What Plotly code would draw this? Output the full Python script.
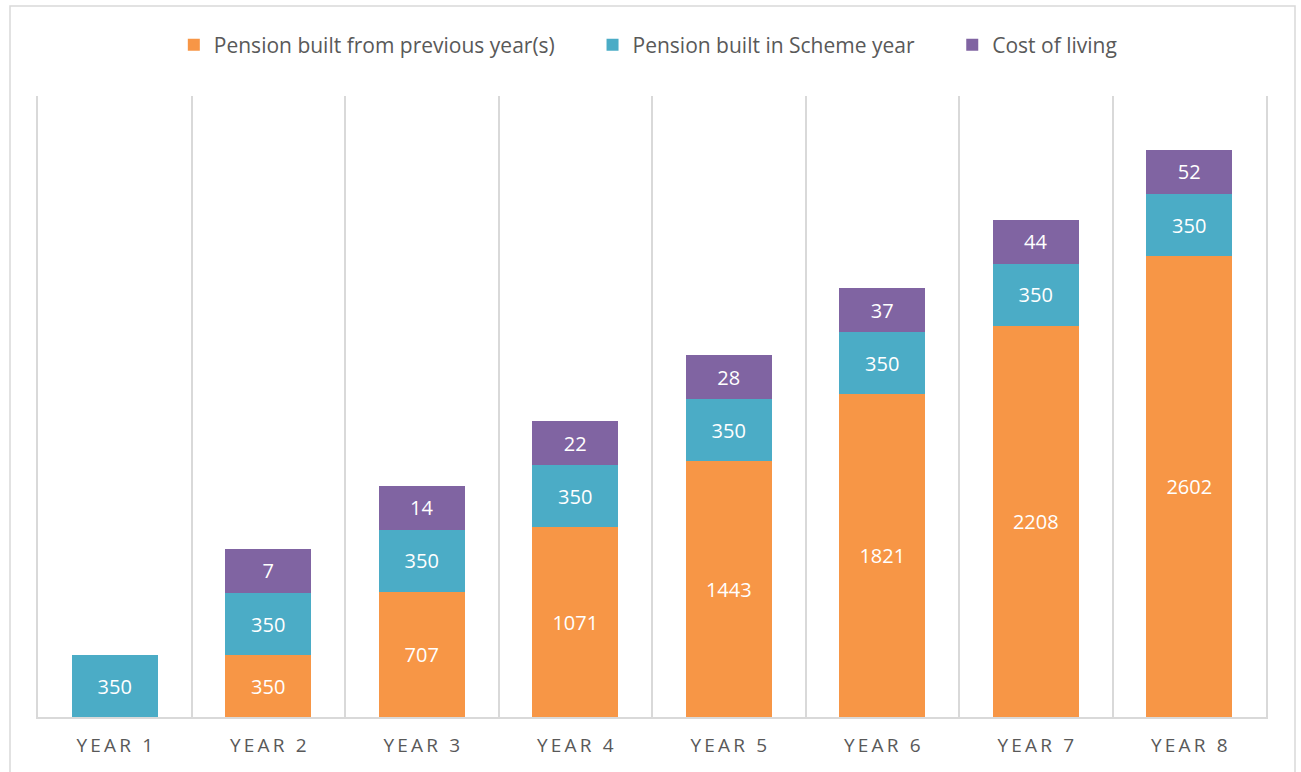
import plotly.graph_objects as go

categories = ["YEAR 1", "YEAR 2", "YEAR 3", "YEAR 4", "YEAR 5", "YEAR 6", "YEAR 7", "YEAR 8"]
pension_previous = [None, 350, 707, 1071, 1443, 1821, 2208, 2602]
pension_scheme_year = [350, 350, 350, 350, 350, 350, 350, 350]
cost_of_living_labels = [None, 7, 14, 22, 28, 37, 44, 52]
# the purple segments are drawn at a constant height in the source chart
cost_of_living_bar = [None, 250, 250, 250, 250, 250, 250, 250]
series_names = ["Pension built from previous year(s)", "Pension built in Scheme year", "Cost of living"]


def spaced(s):
    return "\u2009".join(list(s))


tick_text = [spaced(c) for c in categories]

ORANGE = "#F79646"
TEAL = "#4BACC6"
PURPLE = "#8064A2"
FONT = "Open Sans"
PAD = "\u00a0" * 6


def lbl(v):
    return "" if v is None else str(v)


fig = go.Figure()
for name, ys, labels, color, pad in [
    (series_names[0], pension_previous, pension_previous, ORANGE, PAD),
    (series_names[1], pension_scheme_year, pension_scheme_year, TEAL, PAD),
    (series_names[2], cost_of_living_bar, cost_of_living_labels, PURPLE, ""),
]:
    fig.add_trace(go.Bar(
        x=categories, y=ys, name=name + pad,
        marker=dict(color=color, line=dict(width=0)),
        text=[lbl(v) for v in labels], textposition="inside",
        insidetextanchor="middle", textfont=dict(color="white", size=20, family=FONT),
        hovertemplate="%{x}: %{text}<extra>" + name + "</extra>",
    ))

fig.update_layout(
    barmode="stack",
    bargap=0.44,
    width=1301, height=772,
    margin=dict(l=38, r=35, t=96, b=55),
    paper_bgcolor="white", plot_bgcolor="white",
    font=dict(family=FONT, color="#595959"),
    showlegend=True,
    legend=dict(orientation="h", x=0.497, xanchor="center", y=1.082, yanchor="middle",
                font=dict(size=21, color="#595959", family=FONT),
                traceorder="normal", itemwidth=30),
    uniformtext=dict(minsize=20, mode="show"),
    xaxis=dict(type="category", tickmode="array", tickvals=categories, ticktext=tick_text,
               tickson="boundaries", showgrid=True, gridcolor="#D9D9D9", gridwidth=1.5,
               showline=True, linecolor="#D9D9D9", linewidth=2, ticks="",
               ticklabelstandoff=10,
               tickfont=dict(size=19, color="#595959", family=FONT)),
    yaxis=dict(range=[0, 3506], showgrid=False, zeroline=False, showticklabels=False,
               showline=True, mirror=True, linecolor="#D9D9D9", linewidth=1.5, ticks=""),
    shapes=[dict(type="rect", xref="paper", yref="paper",
                 x0=(10 - 38) / 1228, x1=(1295 - 38) / 1228,
                 y0=(717 - 780) / 621, y1=(717 - 6) / 621,
                 line=dict(color="#D9D9D9", width=1.5), fillcolor="rgba(0,0,0,0)",
                 layer="below")],
)

fig.write_html("out.html", post_script="document.body.style.margin='0';",
               config={"displayModeBar": False})
